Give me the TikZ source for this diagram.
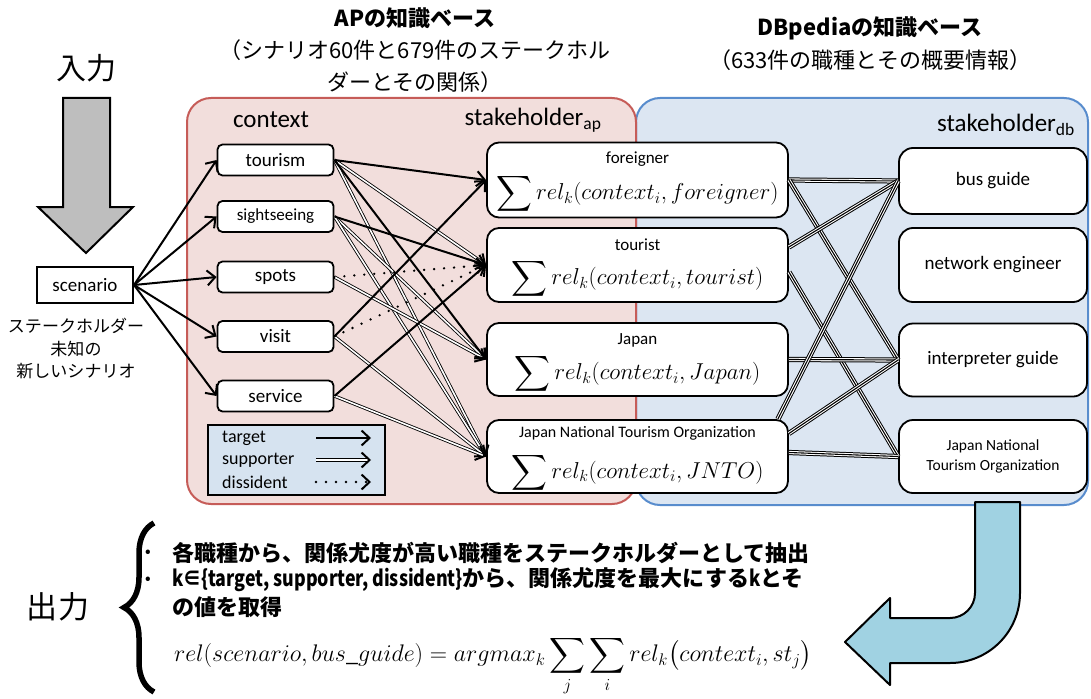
\RequirePackage{fix-cm}
\documentclass[tikz,border=0pt]{standalone}
\usepackage{exscale}
\usepackage{fontspec}
\setmainfont{Carlito}
\newfontfamily\jp{Noto Sans CJK JP}
\usepackage{graphicx}
\usetikzlibrary{arrows.meta,calc,decorations.pathreplacing}

\definecolor{apfill}{RGB}{242,222,220}
\definecolor{apline}{RGB}{198,92,88}
\definecolor{dbfill}{RGB}{220,230,242}
\definecolor{dbline}{RGB}{88,140,205}
\definecolor{keyfill}{RGB}{214,227,240}
\definecolor{inarrow}{RGB}{190,190,190}
\definecolor{outarrow}{RGB}{160,210,226}

\newcommand\fsz[1]{\fontsize{#1}{#1}\selectfont}

\begin{document}
\begin{tikzpicture}[x=1pt,y=-1pt,
  box/.style={draw, line width=1.8pt, fill=white, inner sep=0pt},
  ctx/.style={box, rounded corners=5pt, minimum width=116pt, minimum height=31pt, font=\fsz{19}},
  apbox/.style={box, rounded corners=12pt, minimum width=301pt, minimum height=73pt},
  dbbox/.style={box, rounded corners=14pt, minimum width=188pt, minimum height=73pt, font=\fsz{19}, align=center},
  aphead/.style={font=\fsz{17}, inner sep=0pt},
  apmath/.style={font=\fsz{23}, inner sep=0pt},
  lbl/.style={font=\fsz{25}, inner sep=0pt},
  keytext/.style={font=\fsz{18}, inner sep=0pt, anchor=west},
  jptext/.style={font=\jp\fsz{22}, inner sep=0pt},
  jpbold/.style={font=\jp\bfseries\fsz{22}, inner sep=0pt},
  target/.style={line width=2pt, -{Straight Barb[length=8pt,width=15pt]}},
  supporter/.style={double, double distance=1.6pt, line width=0.85pt,
    -{Straight Barb[length=8pt,width=15pt,line width=2pt]}},
  dissident/.style={line width=2.6pt, line cap=round, dash pattern=on 0pt off 10pt,
    -{Straight Barb[length=8pt,width=15pt,line width=2pt]}},
  triple/.style={line width=1.1pt, preaction={draw=black, line width=5.2pt},
    preaction={draw=white, line width=3.2pt}},
]
\useasboundingbox (0,0) rectangle (1091,698);

% knowledge base panels
\draw[dbline, fill=dbfill, line width=2pt, rounded corners=24pt] (636,98) rectangle (1088,505);
\draw[apline, fill=apfill, line width=2pt, rounded corners=24pt] (187,98) rectangle (636,504);

% headings
\node[jptext, font=\jp\fsz{30}] (inlabel) at (86,68) {入力};
\node[jpbold] (aptitle) at (415,18) {APの知識ベース};
\node[jptext, align=center, font=\jp\fontsize{22}{32}\selectfont] (apsub) at (415,66)
  {（シナリオ60件と679件のステークホル\\ダーとその関係）};
\node[jpbold] (dbtitle) at (870,28) {DBpediaの知識ベース};
\node[jptext] (dbsub) at (870,60) {（633件の職種とその概要情報）};

% input arrow and scenario
\draw[line width=2pt, fill=inarrow] (63,98) -- (110,98) -- (110,207) -- (133,207)
  -- (86,253) -- (38,207) -- (63,207) -- cycle;
\node[box, minimum width=96pt, minimum height=36pt, line width=2pt, font=\fsz{19}] (sc) at (85,285) {scenario};
\node[font=\jp\fontsize{17}{22.5}\selectfont, align=center, inner sep=0pt] (sccap) at (76,349)
  {ステークホルダー\\未知の\\新しいシナリオ};

% context column
\node[lbl] (ctxlabel) at (271,120) {context};
\node[ctx] (c1) at (275.5,160) {tourism};
\node[ctx, font=\fsz{17}] (c2) at (275.5,216.5) {sightseeing};
\node[ctx] (c3) at (275.5,277) {spots};
\node[ctx] (c4) at (275.5,336.5) {visit};
\node[ctx] (c5) at (275.5,396) {service};

% legend
\node[draw, line width=1.5pt, fill=keyfill, minimum width=177pt, minimum height=70pt, inner sep=0pt] (key) at (296.5,460) {};
\node[keytext] (ktg) at (222,438) {target};
\node[keytext] (ksp) at (222,460) {supporter};
\node[keytext] (kds) at (222,482) {dissident};
\coordinate (ktg1) at (316,438); \coordinate (ktg2) at (371,438);
\coordinate (ksp1) at (316,460); \coordinate (ksp2) at (371,460);
\coordinate (kds1) at (316,482); \coordinate (kds2) at (371,482);
\draw[target] (ktg1) -- (ktg2);
\draw[supporter] (ksp1) -- (ksp2);
\draw[dissident] (kds1) -- (kds2);

% AP stakeholders
\node[lbl] (aplabel) at (533,120) {stakeholder\textsubscript{ap}};
\node[apbox, minimum height=75pt] (fo) at (637.5,180) {};
\node[apbox, minimum height=74pt] (to) at (637.5,265) {};
\node[apbox] (ja) at (637.5,359.5) {};
\node[apbox] (jn) at (637.5,456.5) {};
\node[aphead] (foh) at (637.5,159.5) {foreigner};
\node[apmath] (fom) at (637.5,194) {$\displaystyle\sum rel_k(context_i, foreigner)$};
\node[aphead] (toh) at (637.5,245) {tourist};
\node[apmath] (tom) at (637.5,279) {$\displaystyle\sum rel_k(context_i, tourist)$};
\node[aphead] (jah) at (637.5,340) {Japan};
\node[apmath] (jam) at (637.5,374) {$\displaystyle\sum rel_k(context_i, Japan)$};
\node[aphead, font=\fsz{16}] (jnh) at (637.5,433) {Japan National Tourism Organization};
\node[apmath] (jnm) at (637.5,472.5) {$\displaystyle\sum rel_k(context_i, JNTO)$};

% DBpedia stakeholders
\node[lbl, anchor=east] (dblabel) at (1075,125) {stakeholder\textsubscript{db}};
\node[dbbox, minimum height=66pt] (bg) at (993,181) {bus guide};
\node[dbbox, minimum height=74pt] (ne) at (993,265) {network engineer};
\node[dbbox] (ig) at (993,360) {interpreter guide};
\node[dbbox, font=\fontsize{15.5}{20}\selectfont] (jd) at (993,456.5) {Japan National\\Tourism Organization};

% scenario to contexts
\foreach \c in {c1,c2,c3,c4,c5} \draw[target] (sc.east) -- (\c.west);

% contexts to AP stakeholders
\draw[supporter] (c1.east) -- (to.west);
\draw[supporter] (c1.east) -- (jn.west);
\draw[supporter] (c2.east) -- (ja.west);
\draw[supporter] (c2.east) -- (jn.west);
\draw[supporter] (c3.east) -- (ja.west);
\draw[supporter] (c4.east) -- (jn.west);
\draw[supporter] (c5.east) -- (jn.west);
\draw[dissident] (c3.east) -- (to.west);
\draw[dissident] (c4.east) -- (to.west);
\draw[target] (c1.east) -- (fo.west);
\draw[target] (c1.east) -- (ja.west);
\draw[target] (c2.east) -- (to.west);
\draw[target] (c4.east) -- (fo.west);
\draw[target] (c5.east) -- (to.west);

% AP stakeholders to DBpedia occupations
\draw[triple] (fo.east) -- (bg.west);
\draw[triple] (fo.east) -- (ig.west);
\draw[triple] ([yshift=18pt]to.east) -- (bg.west);
\draw[triple] ([yshift=-7pt]to.east) -- (jd.west);
\draw[triple] (ja.east) -- (ig.west);
\draw[triple] ([xshift=-11pt]jn.north east) -- (bg.west);
\draw[triple] ([yshift=23pt]jn.east) -- (ig.west);
\draw[triple] ([yshift=4pt]jn.east) -- (jd.west);

% output arrow
\draw[line width=2pt, fill=outarrow, line join=round]
  (975,502) -- (975,593) arc[start angle=0, end angle=-90, radius=25pt]
  -- (890,618) -- (890,598) -- (845,642) -- (890,685) -- (890,663) -- (950,663)
  arc[start angle=-90, end angle=0, radius=70pt] -- (1020,502) -- cycle;

% output section
\node[jptext, font=\jp\fsz{31}] (outlabel) at (58,607) {出力};
\draw[decorate, decoration={brace, amplitude=30pt}, line width=5.5pt] (154,692) -- (154,523);
\node[jpbold, font=\jp\bfseries\fsz{14}] (b1) at (148,553) {•};
\node[jpbold, anchor=west] (t1) at (172,553) {各職種から、関係尤度が高い職種をステークホルダーとして抽出};
\node[jpbold, font=\jp\bfseries\fsz{14}] (b2) at (148,580) {•};
\node[jpbold, anchor=west] (t2) at (172,580)
  {\scalebox{0.81}[1]{k∈\{target, supporter, dissident\}}から、関係尤度を最大にする\scalebox{0.81}[1]{k}とそ};
\node[jpbold, anchor=west] (t3) at (172,607) {の値を取得};
\node[font=\fsz{24}, inner sep=0pt] (formula) at (493,666)
  {$rel(scenario, bus\_guide) = argmax_k \displaystyle\sum_j \sum_i rel_k\bigl(context_i, st_j\bigr)$};
\end{tikzpicture}
\end{document}
